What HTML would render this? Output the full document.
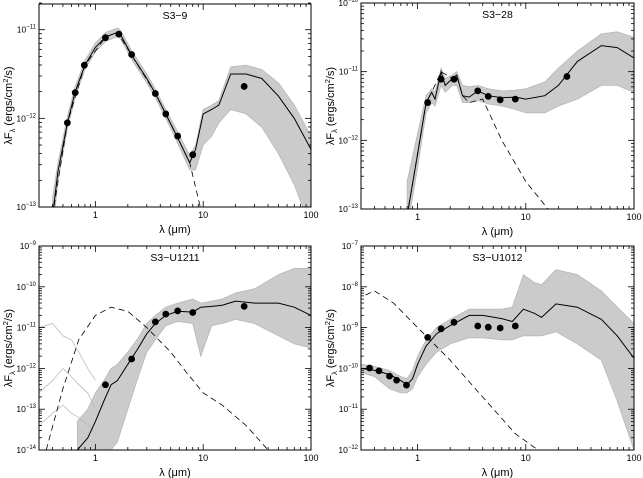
<!DOCTYPE html>
<html><head><meta charset="utf-8"><style>
html,body{margin:0;padding:0;background:#fff;}
svg{display:block;font-family:"Liberation Sans",sans-serif;}
</style></head><body>
<svg id="fig" width="643" height="478" viewBox="0 0 643 478"></svg>
<script>
// ---- Panel 1: S3-9 ----
const lam1 = [0.4,0.45,0.55,0.65,0.8,1.0,1.25,1.6,1.7,2.2,3.0,3.6,4.5,5.8,7.5,8.5,10,12,14,18,25,35,50,70,100];
const best1 = [-13.1,-12.6,-12.05,-11.7,-11.4,-11.2,-11.08,-11.03,-11.05,-11.3,-11.55,-11.72,-11.95,-12.22,-12.5,-12.35,-11.95,-11.9,-11.85,-11.5,-11.5,-11.55,-11.75,-12.0,-12.35];
const up1 = [-12.9,-12.5,-11.98,-11.64,-11.35,-11.15,-11.03,-10.98,-11.0,-11.25,-11.5,-11.67,-11.9,-12.15,-12.42,-12.3,-11.9,-11.85,-11.8,-11.42,-11.4,-11.45,-11.6,-11.85,-12.2];
const lo1 = [-13.3,-12.7,-12.12,-11.76,-11.45,-11.25,-11.13,-11.08,-11.1,-11.35,-11.6,-11.77,-12.0,-12.28,-12.58,-12.58,-12.3,-12.2,-12.05,-11.9,-11.95,-12.1,-12.4,-12.75,-13.25];
const starLam1 = [0.4,0.55,0.8,1.25,1.6,2.2,3.6,5.8,7.5,9.4];
const star1 = [-13.1,-12.05,-11.4,-11.08,-11.03,-11.3,-11.72,-12.22,-12.5,-13.0];
const obsLam1 = [0.55,0.65,0.79,1.24,1.65,2.17,3.6,4.5,5.8,8.0,24];
const obs1 = [-12.05,-11.71,-11.40,-11.09,-11.05,-11.28,-11.72,-11.95,-12.20,-12.41,-11.64];

// ---- Panel 2: S3-28 ----
const lam2 = [0.8,1.0,1.2,1.35,1.45,1.65,1.8,2.1,2.3,2.6,3.0,3.6,4.5,6,8,10,15,20,30,50,70,100];
const best2 = [-13.1,-12.2,-11.45,-11.3,-11.4,-11.0,-11.2,-11.1,-11.05,-11.35,-11.37,-11.28,-11.35,-11.38,-11.37,-11.4,-11.35,-11.2,-10.85,-10.62,-10.65,-10.8];
const up2 = [-12.6,-11.9,-11.35,-11.25,-11.3,-10.95,-11.1,-11.05,-11.0,-11.2,-11.22,-11.2,-11.25,-11.28,-11.27,-11.25,-11.15,-10.95,-10.7,-10.45,-10.42,-10.5];
const lo2 = [-13.3,-12.4,-11.6,-11.45,-11.5,-11.2,-11.3,-11.2,-11.2,-11.45,-11.45,-11.42,-11.47,-11.5,-11.55,-11.6,-11.6,-11.5,-11.4,-11.2,-11.2,-11.3];
const starLam2 = [0.8,1.2,1.35,1.65,2.1,2.3,2.6,3.0,4.0,6.0,10,16];
const star2 = [-13.1,-11.45,-11.3,-11.0,-11.1,-11.05,-11.35,-11.45,-11.4,-12.0,-12.6,-13.0];
const obsLam2 = [1.24,1.65,2.17,3.6,4.5,5.8,8.0,24];
const obs2 = [-11.45,-11.11,-11.11,-11.28,-11.36,-11.41,-11.40,-11.07];

// ---- Panel 3: S3-U1211 ----
const lam3 = [0.68,0.85,1.0,1.2,1.4,1.6,2.0,2.5,3.0,3.6,4.5,5.8,8,9.5,12,15,20,30,50,70,100];
const best3 = [-14.0,-13.7,-13.3,-12.8,-12.4,-12.3,-11.9,-11.5,-11.15,-10.9,-10.7,-10.6,-10.62,-10.5,-10.48,-10.45,-10.35,-10.4,-10.4,-10.5,-10.7];
const up3 = [-13.3,-13.0,-12.6,-12.3,-12.0,-11.9,-11.6,-11.25,-10.9,-10.7,-10.5,-10.4,-10.3,-10.4,-10.35,-10.3,-10.15,-10.05,-9.7,-9.55,-9.55];
const lo3 = [-14.2,-14.2,-14.1,-14.0,-14.0,-13.8,-13.0,-12.2,-11.6,-11.3,-10.95,-10.85,-10.9,-11.7,-10.95,-10.9,-10.8,-10.9,-11.2,-11.4,-11.5];
const starLam3 = [0.35,0.5,0.7,1.0,1.4,2.0,3.0,5.0,7.0,10,15,25,40];
const star3 = [-14.0,-12.5,-11.3,-10.7,-10.5,-10.6,-11.0,-11.6,-12.1,-12.6,-12.9,-13.4,-14.0];
const obsLam3 = [1.24,2.17,3.6,4.5,5.8,8.0,24];
const obs3 = [-12.40,-11.77,-10.86,-10.67,-10.59,-10.63,-10.48];
const fgLam3 = [0.3,0.4,0.5,0.6,0.7,0.85,1.0];
const fgA3 = [-11.0,-10.9,-11.2,-11.3,-11.6,-12.0,-12.3];
const fgB3 = [-12.6,-12.3,-12.0,-12.2,-12.4,-12.6,-13.0];
const fgC3 = [-13.4,-13.1,-12.9,-13.1,-13.2,-13.4,-13.6];

// ---- Panel 4: S3-U1012 ----
const lam4 = [0.3,0.4,0.55,0.7,0.8,0.9,1.0,1.2,1.5,2,3,4,6,7.5,9.5,12,14,19,30,50,70,100];
const best4 = [-10.0,-10.05,-10.15,-10.3,-10.4,-10.25,-9.9,-9.45,-9.15,-8.95,-8.7,-8.7,-8.78,-8.85,-8.55,-8.65,-8.75,-8.42,-8.5,-8.8,-9.2,-9.75];
const up4 = [-9.9,-9.95,-10.05,-10.2,-10.25,-10.05,-9.7,-9.3,-9.0,-8.8,-8.55,-8.55,-8.55,-8.5,-7.7,-7.9,-7.95,-7.58,-7.7,-8.1,-8.5,-8.9];
const lo4 = [-10.1,-10.2,-10.5,-10.6,-10.6,-10.5,-10.2,-9.9,-9.6,-9.4,-9.25,-9.25,-9.3,-9.3,-9.2,-9.2,-9.2,-9.1,-9.4,-9.8,-10.8,-12.0];
const starLam4 = [0.33,0.4,0.6,1.0,2.0,4.0,8.0,13];
const star4 = [-8.2,-8.1,-8.4,-9.0,-9.8,-10.7,-11.6,-12.0];
const obsLam4 = [0.36,0.44,0.55,0.64,0.79,1.24,1.65,2.17,3.6,4.5,5.8,8.0];
const obs4 = [-9.99,-10.06,-10.19,-10.29,-10.41,-9.24,-9.03,-8.87,-8.96,-8.99,-9.01,-8.96];

const yTicks1=[-13,-12,-11], yTicks2=[-13,-12,-11,-10], yTicks3=[-14,-13,-12,-11,-10,-9], yTicks4=[-12,-11,-10,-9,-8,-7];
const xTickLabels=[1,10,100];

const NS="http://www.w3.org/2000/svg";
const svg=document.getElementById('fig');
function mk(tag,attrs,parent){const e=document.createElementNS(NS,tag);for(const k in attrs)e.setAttribute(k,attrs[k]);(parent||svg).appendChild(e);return e;}

function panel(id,title,box,ymin,ymax,yTicks,lam,best,up,lo,sLam,star,oLam,obs,extra){
  const g=mk('g',{});
  
  
  const xmin=Math.log10(0.3),xmax=2;
  const X=l=>box.x+(Math.log10(l)-xmin)/(xmax-xmin)*box.w;
  const Y=v=>box.y+box.h-(v-ymin)/(ymax-ymin)*box.h;
  const cid='clip-'+id;
  const cp=mk('clipPath',{id:cid},g);mk('rect',{x:box.x,y:box.y,width:box.w,height:box.h},cp);
  const plot=mk('g',{'clip-path':'url(#'+cid+')'},g);
  let d='';
  lam.forEach((l,i)=>{d+=(i?'L':'M')+X(l).toFixed(1)+','+Y(up[i]).toFixed(1);});
  for(let i=lam.length-1;i>=0;i--)d+='L'+X(lam[i]).toFixed(1)+','+Y(lo[i]).toFixed(1);
  const band=mk('path',{d:d+'Z',fill:'#cbcbcb',stroke:'#b8b8b8','stroke-width':0.8},plot);
  
  
  const line=(xs,ys,attrs,name)=>{
    const p=mk('path',Object.assign({d:xs.map((l,i)=>(i?'L':'M')+X(l).toFixed(1)+','+Y(ys[i]).toFixed(1)).join(''),fill:'none'},attrs),plot);
    
    
    return p;
  };
  if(extra)extra.forEach((ys,k)=>line(extra.lam,ys,{stroke:'#bbb','stroke-width':0.8},'foreground-model-'+k));
  line(sLam,star,{stroke:'#000','stroke-width':0.8,'stroke-dasharray':'6,4'},'stellar-photosphere');
  line(lam,best,{stroke:'#000','stroke-width':1},'best-fit-model');
  oLam.forEach((l,i)=>{
    const c=mk('circle',{cx:X(l),cy:Y(obs[i]),r:3.4,fill:'#000'},plot);
    
    
  });
  const fr=mk('rect',{x:box.x,y:box.y,width:box.w,height:box.h,fill:'none',stroke:'#000','stroke-width':1},g);
  
  
  for(let e=-1;e<=1;e++)for(let m=1;m<=9;m++){
    const l=m*Math.pow(10,e); if(l<0.3||l>100)continue;
    const x=X(l),len=m===1?6:3;
    mk('line',{x1:x,x2:x,y1:box.y+box.h,y2:box.y+box.h-len,stroke:'#000','stroke-width':0.8},g);
    mk('line',{x1:x,x2:x,y1:box.y,y2:box.y+len,stroke:'#000','stroke-width':0.8},g);
  }
  xTickLabels.forEach(v=>{
    const t=mk('text',{x:X(v),y:box.y+box.h+11,'font-size':9,'text-anchor':'middle'},g);t.textContent=v;
    
    
  });
  for(let e=ymin;e<ymax;e++)for(let m=1;m<=9;m++){
    const y=Y(e+Math.log10(m)),len=m===1?6:3;
    mk('line',{x1:box.x,x2:box.x+len,y1:y,y2:y,stroke:'#000','stroke-width':0.8},g);
    mk('line',{x1:box.x+box.w,x2:box.x+box.w-len,y1:y,y2:y,stroke:'#000','stroke-width':0.8},g);
  }
  yTicks.forEach(v=>{
    const t=mk('text',{x:box.x-3,y:Y(v)+3,'font-size':8.5,'text-anchor':'end'},g);
    t.innerHTML='10<tspan dy="-4" font-size="6">'+(v<0?'\u2212'+(-v):v)+'</tspan>';
    
    
  });
  const tt=mk('text',{x:box.x+box.w/2,y:box.y+15,'font-size':10.5,'text-anchor':'middle'},g);tt.textContent=title;
  
  
  const xt=mk('text',{x:box.x+box.w/2,y:box.y+box.h+26,'font-size':11,'text-anchor':'middle'},g);xt.textContent='\u03bb (\u03bcm)';
  
  
  const cy=box.y+box.h/2;
  const yt=mk('text',{x:0,y:0,'font-size':11,'text-anchor':'middle',transform:'translate('+(box.x-27)+','+cy+') rotate(-90)'},g);
  yt.innerHTML='\u03bbF<tspan dy="3" font-size="7.5">\u03bb</tspan><tspan dy="-3"> (ergs/cm</tspan><tspan dy="-4" font-size="7.5">2</tspan><tspan dy="4">/s)</tspan>';
  
  
}
const fg3=[fgA3,fgB3,fgC3]; fg3.lam=fgLam3;
panel('s3-9','S3\u22129',{x:39,y:4,w:272,h:203},-13,-10.71,yTicks1,lam1,best1,up1,lo1,starLam1,star1,obsLam1,obs1);
panel('s3-28','S3\u221228',{x:361,y:3,w:273,h:206},-13,-10,yTicks2,lam2,best2,up2,lo2,starLam2,star2,obsLam2,obs2);
panel('s3-u1211','S3\u2212U1211',{x:39,y:246,w:272,h:204},-14,-9,yTicks3,lam3,best3,up3,lo3,starLam3,star3,obsLam3,obs3,fg3);
panel('s3-u1012','S3\u2212U1012',{x:361,y:246,w:273,h:204},-12,-7,yTicks4,lam4,best4,up4,lo4,starLam4,star4,obsLam4,obs4);
</script>
</body></html>
